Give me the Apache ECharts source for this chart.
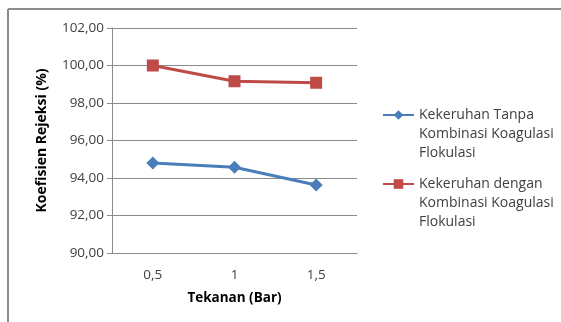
<!DOCTYPE html>
<html>
<head>
<meta charset="utf-8">
<script src="https://cdn.jsdelivr.net/npm/echarts@6/dist/echarts.min.js"></script>
<style>
  html, body { margin: 0; padding: 0; background: #ffffff; }
  #chart { width: 561px; height: 322px; }
</style>
</head>
<body>
<div id="chart"></div>
<script>
// Pressure levels (Bar) on the category axis
const categories = ['0,5', '1', '1,5'];
// Rejection coefficient (%) for each treatment
const seriesNames = [
  'Kekeruhan Tanpa Kombinasi Koagulasi Flokulasi',
  'Kekeruhan dengan Kombinasi Koagulasi Flokulasi'
];
const tanpaValues = [94.80, 94.57, 93.63];
const denganValues = [100.00, 99.16, 99.08];
// Value axis range
const yMin = 90, yMax = 102, yStep = 2;

const blue = '#4a7ebb';
const red = '#be4b48';
const axisGrey = '#8a8a8a';
const fontFamily = '"Open Sans", "Noto Sans", sans-serif';

// Legend labels wrap over three lines; two blank lines in front keep the
// first line level with the legend symbol, which sits at the block's middle.
const wrapped = {};
wrapped[seriesNames[0]] = '\n\nKekeruhan Tanpa\nKombinasi Koagulasi\nFlokulasi';
wrapped[seriesNames[1]] = '\n\nKekeruhan dengan\nKombinasi Koagulasi\nFlokulasi';

function legendFor(name, iconCenterY) {
  return {
    data: [name],
    orient: 'vertical',
    left: 382,
    top: iconCenterY - 47.5,
    padding: 0,
    itemWidth: 31,
    itemHeight: 12,
    formatter: n => wrapped[n],
    textStyle: {
      fontFamily: fontFamily,
      fontSize: 14,
      color: '#404040',
      lineHeight: 19
    }
  };
}

const chart = echarts.init(document.getElementById('chart'), null, { renderer: 'canvas' });
chart.setOption({
  backgroundColor: '#ffffff',
  animation: false,
  textStyle: { fontFamily: fontFamily },
  graphic: [
    { type: 'line', shape: { x1: 8, y1: 9, x2: 561, y2: 9 }, style: { stroke: '#8c8c8c', lineWidth: 2 } },
    { type: 'line', shape: { x1: 8, y1: 9, x2: 8, y2: 322 }, style: { stroke: '#8c8c8c', lineWidth: 2 } }
  ],
  legend: [legendFor(seriesNames[0], 115), legendFor(seriesNames[1], 184)],
  grid: { left: 112, top: 28, width: 245, height: 225, containLabel: false },
  xAxis: {
    type: 'category',
    data: categories,
    boundaryGap: true,
    name: 'Tekanan (Bar)',
    nameLocation: 'middle',
    nameGap: 38,
    nameTextStyle: { fontFamily: fontFamily, fontSize: 13.5, fontWeight: 'bold', color: '#000000' },
    axisLine: { lineStyle: { color: axisGrey, width: 1 } },
    axisTick: { show: false },
    axisLabel: { margin: 15, fontSize: 13.5, color: '#404040', fontFamily: fontFamily },
    splitLine: { show: false }
  },
  yAxis: {
    type: 'value',
    min: yMin,
    max: yMax,
    interval: yStep,
    name: 'Koefisien Rejeksi (%)',
    nameLocation: 'middle',
    nameRotate: 90,
    nameGap: 63,
    nameTextStyle: { fontFamily: fontFamily, fontSize: 14, fontWeight: 'bold', color: '#000000' },
    axisLine: { show: true, lineStyle: { color: axisGrey, width: 1 } },
    axisTick: { show: true, inside: false, length: 5, lineStyle: { color: axisGrey } },
    axisLabel: {
      margin: 8,
      fontSize: 13.5,
      color: '#404040',
      fontFamily: fontFamily,
      formatter: v => v.toFixed(2).replace('.', ',')
    },
    splitLine: { show: true, lineStyle: { color: axisGrey, width: 1 } }
  },
  series: [
    {
      name: seriesNames[0],
      type: 'line',
      data: tanpaValues,
      symbol: 'diamond',
      symbolSize: 13,
      lineStyle: { color: blue, width: 3 },
      itemStyle: { color: blue }
    },
    {
      name: seriesNames[1],
      type: 'line',
      data: denganValues,
      symbol: 'rect',
      symbolSize: 12,
      lineStyle: { color: red, width: 3 },
      itemStyle: { color: red }
    }
  ]
});
</script>
</body>
</html>
